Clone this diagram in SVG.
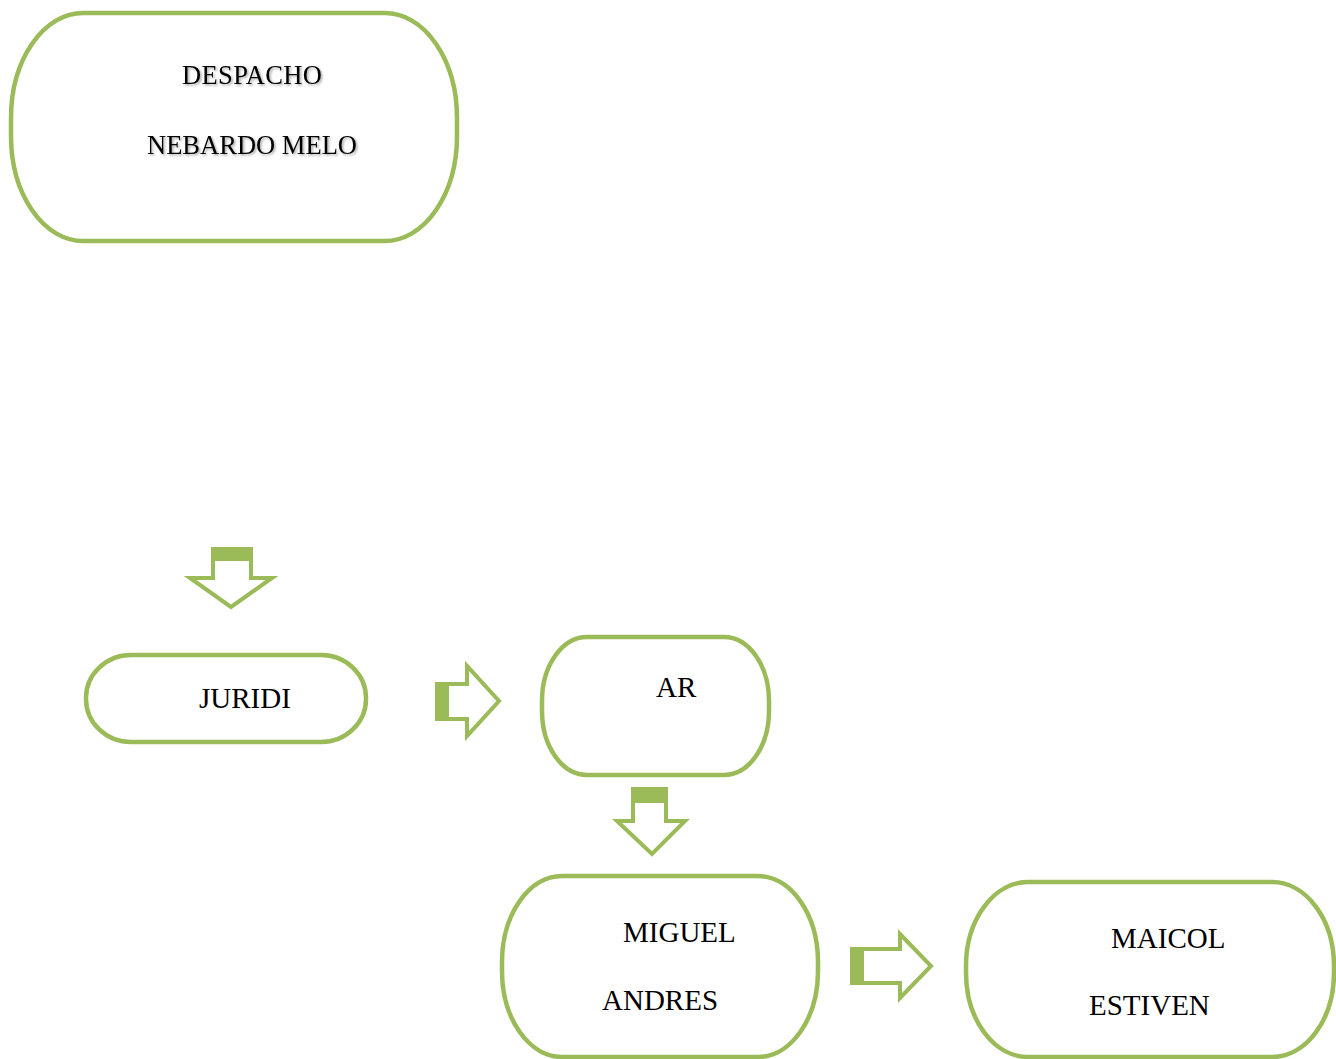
<svg xmlns="http://www.w3.org/2000/svg" width="1336" height="1059" viewBox="0 0 1336 1059">
<defs>
<style>
.box{fill:#fff;stroke:#9bbb59;stroke-width:4.5}
.arr{fill:#fff;stroke:#9bbb59;stroke-width:4;stroke-linejoin:miter}
.blk{fill:#9bbb59}
.t{font-family:"Liberation Serif","Times New Roman",serif;font-size:29px;fill:#000}
.ts{font-family:"Liberation Serif","Times New Roman",serif;font-size:26.5px;fill:#000;filter:url(#sh)}
</style>
<filter id="sh" x="-10%" y="-30%" width="120%" height="160%">
<feDropShadow dx="1.5" dy="1.5" stdDeviation="1" flood-color="#000" flood-opacity="0.35"/>
</filter>
</defs>
<rect width="1336" height="1059" fill="#fff"/>
<g id="despacho">
<path class="box" d="M83,13 H385 A72,105 0 0 1 457,118 V136 A72,105 0 0 1 385,241 H83 A72,105 0 0 1 11,136 V118 A72,105 0 0 1 83,13 Z"/>
<text class="ts" x="182" y="84" textLength="140">DESPACHO</text>
<text class="ts" x="147" y="154" textLength="210">NEBARDO MELO</text>
</g>
<g id="juridi">
<path class="box" d="M131,655 H321 A45,43 0 0 1 366,698 V699 A45,43 0 0 1 321,742 H131 A45,43 0 0 1 86,699 V698 A45,43 0 0 1 131,655 Z"/>
<text class="t" x="199" y="708">JURIDI</text>
</g>
<g id="ar">
<path class="box" d="M587,637 H724 A45,64 0 0 1 769,701 V711 A45,64 0 0 1 724,775 H587 A45,64 0 0 1 542,711 V701 A45,64 0 0 1 587,637 Z"/>
<text class="t" x="656" y="697">AR</text>
</g>
<g id="miguel">
<path class="box" d="M562,876 H758 A60,86 0 0 1 818,962 V971 A60,86 0 0 1 758,1057 H562 A60,86 0 0 1 502,971 V962 A60,86 0 0 1 562,876 Z"/>
<text class="t" x="623" y="942">MIGUEL</text>
<text class="t" x="602" y="1010">ANDRES</text>
</g>
<g id="maicol">
<path class="box" d="M1028,882 H1272 A62,84 0 0 1 1334,966 V973 A62,84 0 0 1 1272,1057 H1028 A62,84 0 0 1 966,973 V966 A62,84 0 0 1 1028,882 Z"/>
<text class="t" x="1111" y="948">MAICOL</text>
<text class="t" x="1089" y="1015">ESTIVEN</text>
</g>
<g id="connectors">
<polygon class="arr" points="213,549 251,549 251,578 272,578 231,607 190,578 213,578"/>
<rect class="blk" x="211" y="547" width="42" height="14"/>
<polygon class="arr" points="437,684 467,684 467,666 499,701 467,736 467,719 437,719"/>
<rect class="blk" x="435" y="682" width="14" height="39"/>
<polygon class="arr" points="633,789 666,789 666,821 685,821 652,854 617,821 633,821"/>
<rect class="blk" x="631" y="787" width="37" height="16"/>
<polygon class="arr" points="852,949 900,949 900,934 931,966 900,998 900,983 852,983"/>
<rect class="blk" x="850" y="947" width="14" height="38"/>
</g>
</svg>
